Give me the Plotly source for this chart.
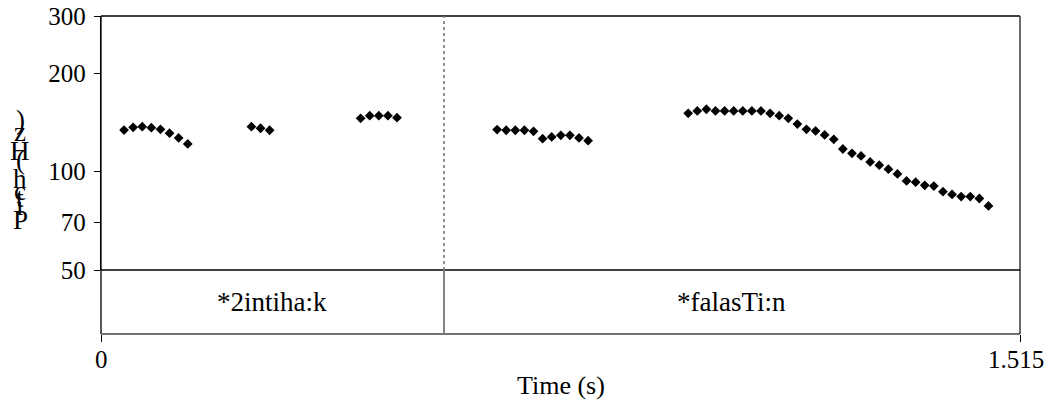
import math
import plotly.graph_objects as go

# Pitch track (time in s, F0 in Hz), one list per voiced stretch
t_v1 = [0.038, 0.053, 0.068, 0.083, 0.098, 0.113, 0.128, 0.143]
f_v1 = [134.2, 136.8, 137.4, 136.4, 134.9, 131.2, 126.9, 121.7]

t_v2 = [0.248, 0.263, 0.278]
f_v2 = [137.4, 135.9, 134.0]

t_v3 = [0.428, 0.443, 0.458, 0.473, 0.488]
f_v3 = [145.8, 148.5, 148.5, 148.5, 146.4]

t_v4 = [0.653, 0.668, 0.683, 0.698, 0.713, 0.728, 0.743, 0.758, 0.773, 0.788, 0.803]
f_v4 = [134.6, 134.0, 134.0, 134.0, 133.0, 126.3, 127.8, 129.3, 129.3, 126.9, 124.5]

t_v5 = [0.968, 0.983, 0.998, 1.013, 1.028, 1.043, 1.058, 1.073, 1.088, 1.103,
        1.118, 1.133, 1.148, 1.163, 1.178, 1.193, 1.208, 1.223, 1.238, 1.253,
        1.268, 1.283, 1.298, 1.313, 1.328, 1.343, 1.358, 1.373, 1.388, 1.403,
        1.418, 1.433, 1.448, 1.463]
f_v5 = [151.0, 153.5, 155.4, 153.5, 153.5, 153.5, 153.5, 153.5, 153.5, 151.0,
        148.5, 145.8, 140.0, 134.9, 133.3, 129.6, 125.7, 117.4, 113.9, 111.8,
        107.2, 104.7, 101.8, 98.5, 93.7, 92.9, 90.9, 90.4, 86.9, 85.2,
        83.9, 83.9, 82.8, 78.6]

# Word tier
tier_bounds = [0.0, 0.5654, 1.515]
tier_labels = ["*2intiha:k", "*falasTi:n"]

# Axes
t_range = [0.0, 1.515]
x_tickvals = [0.0, 1.515]
x_ticktext = ["0", "1.515"]
f_range = [50, 300]
y_tickvals = [50, 70, 100, 200, 300]
y_ticktext = ["50", "70", "100", "200", "300"]
y_title = "Pitch (Hz)"
x_title = "Time (s)"

W, H = 1053, 406
ML, MR, MT, MB = 101, 33, 16, 72
plot_w = W - ML - MR
plot_h = H - MT - MB
tier_px = 64
split = tier_px / plot_h  # paper y where the pitch panel meets the tier


def page_y(py):
    """Page pixel row -> paper y."""
    return (H - MB - py) / plot_h


SERIF = "Liberation Serif, Times New Roman, serif"

fig = go.Figure()

times = t_v1 + t_v2 + t_v3 + t_v4 + t_v5
freqs = f_v1 + f_v2 + f_v3 + f_v4 + f_v5
fig.add_trace(go.Scatter(
    x=times, y=freqs, mode="markers", xaxis="x2", yaxis="y",
    marker=dict(symbol="diamond", size=7.5, color="black", line=dict(width=0)),
    hoverinfo="x+y", showlegend=False,
))

fig.update_layout(
    width=W, height=H,
    margin=dict(l=ML, r=MR, t=MT, b=MB, pad=0, autoexpand=False),
    paper_bgcolor="white", plot_bgcolor="white",
    font=dict(family=SERIF, color="black", size=24),
    showlegend=False,
    xaxis=dict(
        domain=[0, 1], range=t_range, anchor="y2", automargin=False,
        tickmode="array", tickvals=x_tickvals, showticklabels=False,
        ticks="outside", ticklen=7, tickwidth=1.3, tickcolor="black",
        showline=False, showgrid=False, zeroline=False,
    ),
    xaxis2=dict(
        domain=[0, 1], range=t_range, anchor="y", matches="x",
        visible=False, showgrid=False, zeroline=False,
    ),
    yaxis=dict(
        domain=[split, 1], anchor="x2", type="log", automargin=False,
        range=[math.log10(f_range[0]), math.log10(f_range[1])],
        tickmode="array", tickvals=y_tickvals, ticktext=y_ticktext,
        ticks="outside", ticklen=6, tickwidth=1.3, tickcolor="black",
        showline=True, linecolor="black", linewidth=1.3,
        showgrid=False, zeroline=False,
        tickfont=dict(size=25), ticklabelstandoff=3,
    ),
    yaxis2=dict(
        domain=[0, split], range=[0, 1], anchor="x",
        visible=False, showgrid=False, zeroline=False,
    ),
)

shapes = []
line_black = dict(color="black", width=1.3)
line_dark = dict(color="#444444", width=1.6)
# frame
shapes.append(dict(type="line", xref="paper", yref="paper", x0=0, x1=1, y0=1, y1=1, line=line_black))
shapes.append(dict(type="line", xref="paper", yref="paper", x0=0, x1=0, y0=0, y1=1, line=line_black))
shapes.append(dict(type="line", xref="paper", yref="paper", x0=1, x1=1, y0=0, y1=1, line=line_dark))
shapes.append(dict(type="line", xref="paper", yref="paper", x0=0, x1=1, y0=split, y1=split, line=line_black))
shapes.append(dict(type="line", xref="paper", yref="paper", x0=0, x1=1, y0=0, y1=0, line=line_dark))
# interior word boundaries: dotted across the pitch panel, solid in the tier
for b in tier_bounds[1:-1]:
    shapes.append(dict(type="line", xref="x", yref="paper", x0=b, x1=b, y0=split, y1=1,
                       line=dict(color="#808080", width=1.7, dash="dot")))
    shapes.append(dict(type="line", xref="x", yref="paper", x0=b, x1=b, y0=0, y1=split,
                       line=dict(color="#777777", width=1.8)))
fig.update_layout(shapes=shapes)

annotations = []
for i, lab in enumerate(tier_labels):
    annotations.append(dict(
        x=(tier_bounds[i] + tier_bounds[i + 1]) / 2, y=split / 2,
        xref="x", yref="paper", text=lab, showarrow=False,
        xanchor="center", yanchor="middle", font=dict(size=27),
    ))

# time tick labels at the ends of the axis
for tv, tt in zip(x_tickvals, x_ticktext):
    annotations.append(dict(
        x=tv, y=page_y(359), xref="x", yref="paper", text=tt, showarrow=False,
        xanchor="center", yanchor="middle", xshift=-4 if tv > 0 else 0,
        font=dict(size=25),
    ))

# x-axis title below the time ticks
annotations.append(dict(
    x=0.5, y=page_y(385), xref="paper", yref="paper",
    text=x_title, showarrow=False, xanchor="center", yanchor="middle",
    font=dict(size=26),
))

# y-axis title: upright glyphs stacked bottom-to-top
advance = {"P": 0.556, "i": 0.278, "t": 0.278, "c": 0.444, "h": 0.5, " ": 0.25,
           "(": 0.333, "H": 0.722, "z": 0.444, ")": 0.333}
fs = 27
base_px = 229.0  # baseline of the first glyph, in page pixels
for ch in y_title:
    if ch != " ":
        mid_px = base_px - 0.33 * fs
        annotations.append(dict(
            x=(20 - ML) / plot_w, y=page_y(mid_px),
            xref="paper", yref="paper", text=ch, showarrow=False,
            xanchor="center", yanchor="middle", font=dict(size=fs),
        ))
    base_px -= advance.get(ch, 0.5) * fs * 0.97
fig.update_layout(annotations=annotations)

fig.write_html("out.html")
